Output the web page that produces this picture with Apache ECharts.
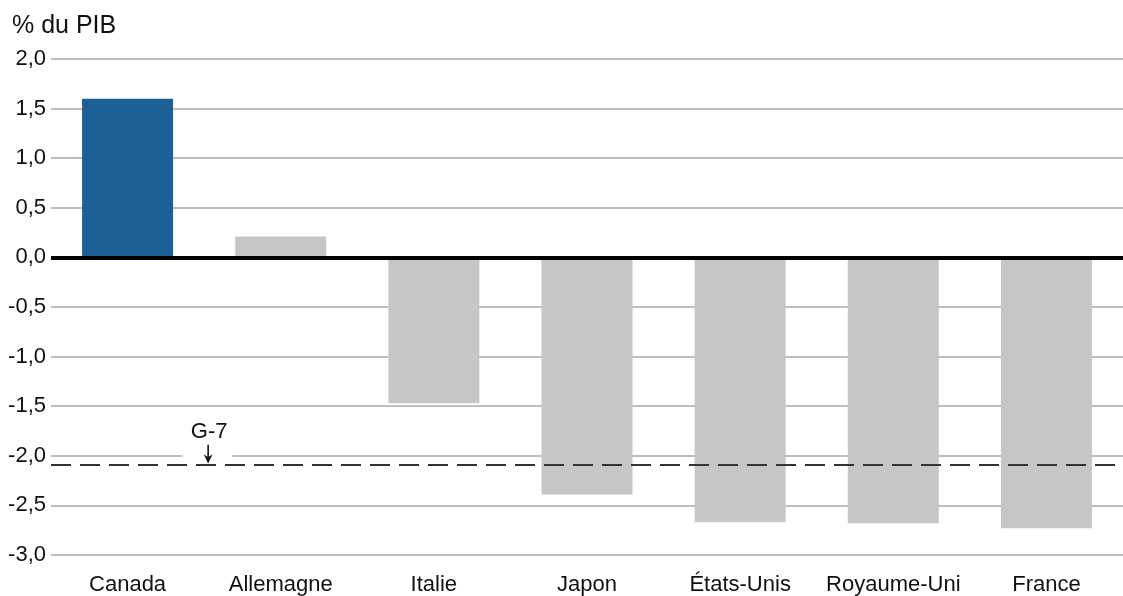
<!DOCTYPE html>
<html>
<head>
<meta charset="utf-8">
<script src="https://cdn.jsdelivr.net/npm/echarts@6/dist/echarts.min.js"></script>
<style>
  html, body { margin: 0; padding: 0; background: #fff; }
  #chart { width: 1123px; height: 596px; }
</style>
</head>
<body>
<div id="chart"></div>
<script>
// Solde budgétaire des pays du G-7, en % du PIB
const categories = ['Canada', 'Allemagne', 'Italie', 'Japon', 'États-Unis', 'Royaume-Uni', 'France'];
const balances = [1.6, 0.21, -1.47, -2.39, -2.67, -2.68, -2.73];
const g7Average = -2.09;
const g7Label = 'G-7';
const yTicks = { min: -3, max: 2, step: 0.5 };
const unitLabel = '% du PIB';

const FONT = '"Liberation Sans", Arial, Helvetica, sans-serif';
const TEXT = '#111';
const BLUE = '#1d5f97';
const GREY = '#c6c6c8';

const chart = echarts.init(document.getElementById('chart'), null, { renderer: 'canvas' });

const option = {
  animation: false,
  backgroundColor: '#fff',
  textStyle: { fontFamily: FONT },
  title: {
    text: unitLabel,
    left: 12,
    top: 14,
    padding: 0,
    textStyle: { fontFamily: FONT, fontSize: 25, fontWeight: 'normal', color: TEXT }
  },
  grid: { left: 51, right: -10, top: 59, bottom: 38.5, containLabel: false },
  xAxis: {
    type: 'category',
    data: categories,
    axisLine: { show: false, onZero: false },
    axisTick: { show: false },
    axisLabel: { interval: 0, fontFamily: FONT, fontSize: 22, color: TEXT, margin: 19 },
    splitLine: { show: false }
  },
  yAxis: {
    type: 'value',
    min: yTicks.min,
    max: yTicks.max,
    interval: yTicks.step,
    axisLine: { show: false },
    axisTick: { show: false },
    axisLabel: {
      fontFamily: FONT, fontSize: 22, color: TEXT, margin: 5,
      formatter: v => v.toFixed(1).replace('.', ',')
    },
    splitLine: { lineStyle: { color: '#a8a8a8', width: 1.5 } }
  },
  series: [{
    type: 'bar',
    data: balances.map((v, i) => ({ value: v, itemStyle: { color: i === 0 ? BLUE : GREY } })),
    barWidth: 91,
    markLine: {
      silent: true,
      symbol: 'none',
      z: 5,
      label: { show: false },
      data: [
        { yAxis: 0, lineStyle: { color: '#000', width: 4, type: 'solid' } },
        { yAxis: g7Average, lineStyle: { color: '#333', width: 2, type: [20, 9] } }
      ]
    }
  }]
};

chart.setOption(option);

// G-7 annotation: label with a downward arrow pointing at the average line
function drawAnnotation() {
  const lineY = chart.convertToPixel({ yAxisIndex: 0 }, g7Average);
  const gridY = chart.convertToPixel({ yAxisIndex: 0 }, -2);
  const x0 = chart.convertToPixel({ xAxisIndex: 0 }, categories[0]);
  const x1 = chart.convertToPixel({ xAxisIndex: 0 }, categories[1]);
  const ax = (x0 + x1) / 2 + 4;
  const tipY = lineY - 1.5;
  chart.setOption({
    graphic: [
      { type: 'rect', z: 1, silent: true,
        shape: { x: ax - 26, y: gridY - 3, width: 50, height: 6 },
        style: { fill: '#fff' } },
      { type: 'text', z: 10, silent: true,
        x: ax + 1, y: gridY - 13,
        style: { text: g7Label, font: '22px ' + FONT, fill: TEXT,
                 textAlign: 'center', textVerticalAlign: 'bottom' } },
      { type: 'line', z: 10, silent: true,
        shape: { x1: ax, y1: gridY - 11, x2: ax, y2: tipY - 1 },
        style: { stroke: TEXT, lineWidth: 1.6 } },
      { type: 'polygon', z: 10, silent: true,
        shape: { points: [[ax - 4.5, tipY - 9], [ax, tipY], [ax + 4.5, tipY - 9], [ax, tipY - 6]] },
        style: { fill: TEXT } }
    ]
  });
}
drawAnnotation();
</script>
</body>
</html>
